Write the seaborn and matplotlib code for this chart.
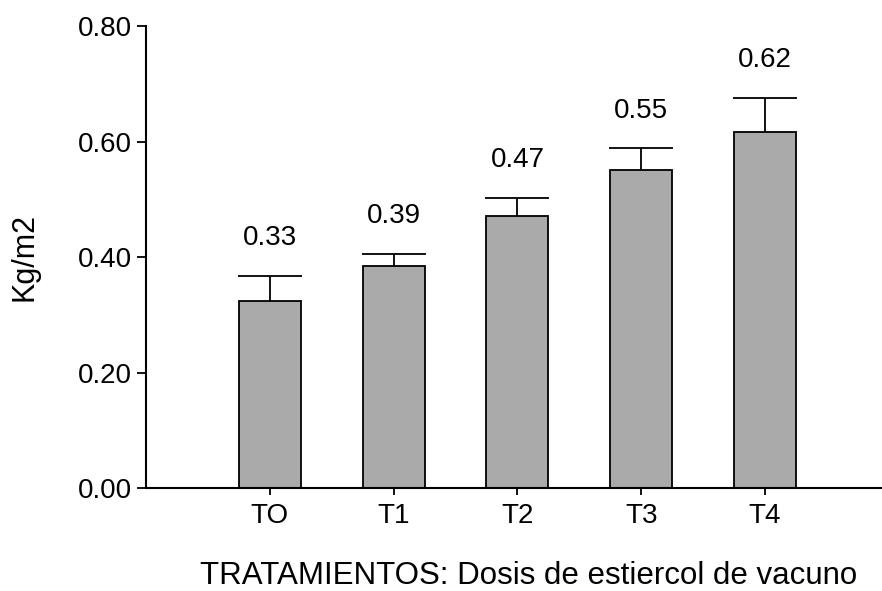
import pandas as pd
import seaborn as sns
import matplotlib.pyplot as plt

# Data
tratamientos = ['TO', 'T1', 'T2', 'T3', 'T4']
rendimiento = [0.324, 0.384, 0.471, 0.551, 0.616]
error_sup = [0.044, 0.022, 0.032, 0.038, 0.060]
etiquetas = ['0.33', '0.39', '0.47', '0.55', '0.62']

df = pd.DataFrame({'Tratamiento': tratamientos, 'Kg': rendimiento})

sns.set_style('ticks')
plt.rcParams['font.family'] = ['Liberation Sans', 'DejaVu Sans']
plt.rcParams['text.color'] = 'black'
plt.rcParams['axes.labelcolor'] = 'black'
plt.rcParams['xtick.color'] = 'black'
plt.rcParams['ytick.color'] = 'black'

fig = plt.figure(figsize=(8.82, 5.91), dpi=100, facecolor='white')
ax = fig.add_axes([0.1655, 0.174, 0.8345, 0.782])

sns.barplot(data=df, x='Tratamiento', y='Kg', color='#aaaaaa',
            edgecolor='black', linewidth=1.3, width=0.5,
            saturation=1, errorbar=None, ax=ax)

# Upper error bars only (hide the lower caps)
eb = ax.errorbar(range(len(tratamientos)), rendimiento,
                 yerr=[[0] * len(error_sup), error_sup], fmt='none',
                 ecolor='black', elinewidth=1.3, capsize=23, capthick=1.3)
eb[1][0].set_visible(False)

# Value labels above the bars
for i, (m, e, t) in enumerate(zip(rendimiento, error_sup, etiquetas)):
    ax.text(i, m + e + 0.042, t, ha='center', va='bottom', fontsize=20)

ax.set_ylim(0, 0.8)
ax.set_xlim(-1.0, 4.945)
ax.set_yticks([0, 0.2, 0.4, 0.6, 0.8])
ax.set_yticklabels(['0.00', '0.20', '0.40', '0.60', '0.80'])
ax.tick_params(axis='both', labelsize=20, width=1.3, color='black')
ax.tick_params(axis='y', length=6.5, pad=3.5)
ax.tick_params(axis='x', length=5, pad=6)

ax.set_ylabel('Kg/m2', fontsize=22)
ax.set_xlabel('TRATAMIENTOS: Dosis de estiercol de vacuno', fontsize=22.5)
ax.yaxis.set_label_coords(-0.144, 0.5)
ax.xaxis.set_label_coords(0.52, -0.158)

sns.despine(ax=ax)
for s in ['left', 'bottom']:
    ax.spines[s].set_linewidth(1.5)
    ax.spines[s].set_color('black')

plt.savefig('out.png', dpi=100)
